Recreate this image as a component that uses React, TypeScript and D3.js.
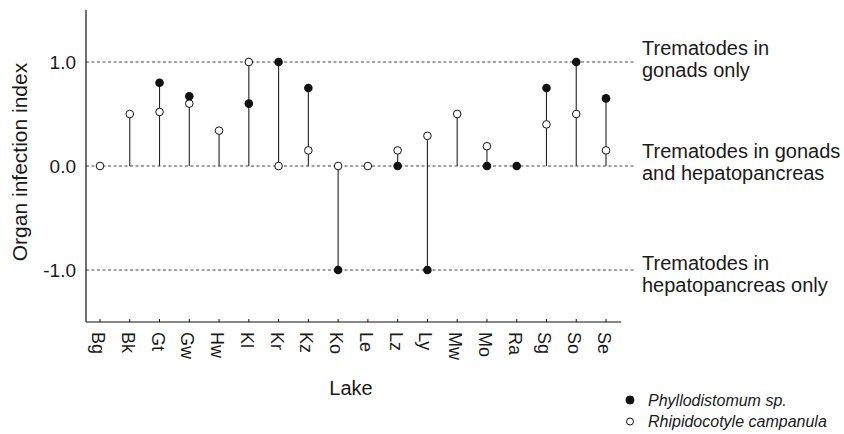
import React, { useRef, useEffect } from "react";
import * as d3 from "d3";

const lakes = ["Bg", "Bk", "Gt", "Gw", "Hw", "Kl", "Kr", "Kz", "Ko", "Le", "Lz", "Ly", "Mw", "Mo", "Ra", "Sg", "So", "Se"];
// null = not found in that lake
const phyllodistomum = [null, null, 0.8, 0.67, null, 0.6, 1.0, 0.75, -1.0, null, 0.0, -1.0, null, 0.0, 0.0, 0.75, 1.0, 0.65];
const rhipidocotyle = [0.0, 0.5, 0.52, 0.6, 0.34, 1.0, 0.0, 0.15, 0.0, 0.0, 0.15, 0.29, 0.5, 0.19, null, 0.4, 0.5, 0.15];
const yTicks = [1, 0, -1];
const zoneLabels = [
  ["Trematodes in", "gonads only"],
  ["Trematodes in gonads", "and hepatopancreas"],
  ["Trematodes in", "hepatopancreas only"],
];
const zoneShift = [-7, -8, 0];
const legendItems = ["Phyllodistomum sp.", "Rhipidocotyle campanula"];

const W = 844;
const H = 434;
const FONT = "'Liberation Sans', Arial, Helvetica, sans-serif";

const App = () => {
  const svgRef = useRef(null);

  useEffect(() => {
    const svg = d3.select(svgRef.current);
    svg.selectAll("*").remove();

    const left = 86, right = 621, top = 10, bottom = 322;

    const x = d3.scalePoint().domain(lakes).range([100, 606]);
    const y = d3.scaleLinear().domain([-1.5, 1.5]).range([bottom, top]);

    // reference lines
    svg.append("g")
      .selectAll("line")
      .data(yTicks)
      .enter().append("line")
      .attr("x1", left)
      .attr("x2", 634)
      .attr("y1", d => y(d))
      .attr("y2", d => y(d))
      .attr("stroke", "#444")
      .attr("stroke-width", 1)
      .attr("stroke-dasharray", "3,2.5");

    // axes
    svg.append("line")
      .attr("x1", left).attr("x2", left)
      .attr("y1", top).attr("y2", bottom)
      .attr("stroke", "#111").attr("stroke-width", 1.2);
    svg.append("line")
      .attr("x1", left).attr("x2", right)
      .attr("y1", bottom).attr("y2", bottom)
      .attr("stroke", "#111").attr("stroke-width", 1.2);

    // x ticks
    svg.append("g")
      .selectAll("line")
      .data(lakes)
      .enter().append("line")
      .attr("x1", d => x(d)).attr("x2", d => x(d))
      .attr("y1", bottom).attr("y2", bottom - 3)
      .attr("stroke", "#111").attr("stroke-width", 1);

    svg.append("g")
      .selectAll("text")
      .data(lakes)
      .enter().append("text")
      .attr("transform", d => `translate(${x(d) - 8}, ${bottom + 10}) rotate(90)`)
      .attr("font-family", FONT)
      .attr("font-size", 18)
      .attr("fill", "#1a1a1a")
      .text(d => d);

    // y tick labels
    svg.append("g")
      .selectAll("text")
      .data(yTicks)
      .enter().append("text")
      .attr("x", 76)
      .attr("y", d => y(d))
      .attr("dy", "0.36em")
      .attr("text-anchor", "end")
      .attr("font-family", FONT)
      .attr("font-size", 19)
      .attr("fill", "#1a1a1a")
      .text(d => d.toFixed(1));

    // axis titles
    svg.append("text")
      .attr("transform", `translate(27, 162) rotate(-90)`)
      .attr("text-anchor", "middle")
      .attr("font-family", FONT)
      .attr("font-size", 21)
      .attr("fill", "#1a1a1a")
      .text("Organ infection index");

    svg.append("text")
      .attr("x", 351)
      .attr("y", 395)
      .attr("text-anchor", "middle")
      .attr("font-family", FONT)
      .attr("font-size", 20)
      .attr("fill", "#1a1a1a")
      .text("Lake");

    // stems
    const rows = lakes.map((lake, i) => {
      const vals = [0, phyllodistomum[i], rhipidocotyle[i]].filter(v => v !== null);
      return { lake, lo: d3.min(vals), hi: d3.max(vals), p: phyllodistomum[i], r: rhipidocotyle[i] };
    });

    svg.append("g")
      .selectAll("line")
      .data(rows.filter(d => d.hi > d.lo))
      .enter().append("line")
      .attr("x1", d => x(d.lake)).attr("x2", d => x(d.lake))
      .attr("y1", d => y(d.lo)).attr("y2", d => y(d.hi))
      .attr("stroke", "#222").attr("stroke-width", 1.1);

    // open circles
    svg.append("g")
      .selectAll("circle")
      .data(rows.filter(d => d.r !== null))
      .enter().append("circle")
      .attr("cx", d => x(d.lake))
      .attr("cy", d => y(d.r))
      .attr("r", 3.8)
      .attr("fill", "#fff")
      .attr("stroke", "#111")
      .attr("stroke-width", 1);

    // filled circles
    svg.append("g")
      .selectAll("circle")
      .data(rows.filter(d => d.p !== null))
      .enter().append("circle")
      .attr("cx", d => x(d.lake))
      .attr("cy", d => y(d.p))
      .attr("r", 4.3)
      .attr("fill", "#111");

    // zone annotations
    const zones = svg.append("g");
    zoneLabels.forEach((lines, i) => {
      const t = zones.append("text")
        .attr("x", 642)
        .attr("y", y(yTicks[i]) + zoneShift[i])
        .attr("font-family", FONT)
        .attr("font-size", 20)
        .attr("fill", "#1a1a1a");
      lines.forEach((ln, j) => {
        t.append("tspan").attr("x", 642).attr("dy", j === 0 ? 0 : 22).text(ln);
      });
    });

    // legend
    const legend = svg.append("g");
    legendItems.forEach((name, i) => {
      const cy = 400 + i * 21.5;
      legend.append("circle")
        .attr("cx", 630).attr("cy", cy)
        .attr("r", i === 0 ? 4 : 3.5)
        .attr("fill", i === 0 ? "#111" : "#fff")
        .attr("stroke", "#111").attr("stroke-width", 1);
      legend.append("text")
        .attr("x", 648).attr("y", cy + 5.5)
        .attr("font-family", FONT)
        .attr("font-style", "italic")
        .attr("font-size", 16)
        .attr("fill", "#1a1a1a")
        .text(name);
    });
  }, []);

  return (
    <svg
      ref={svgRef}
      width={W}
      height={H}
      style={{ position: "absolute", left: 0, top: 0, background: "#fff" }}
    ></svg>
  );
};

export default App;
